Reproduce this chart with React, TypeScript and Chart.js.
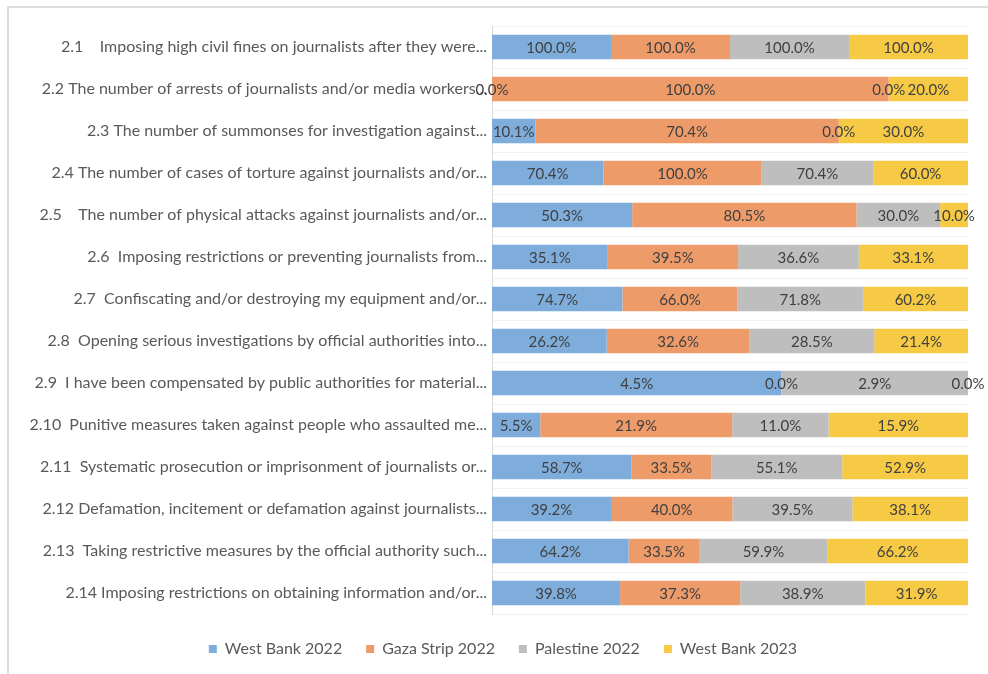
import React, { useEffect, useRef } from "react";
import { Chart, registerables } from "chart.js";

Chart.register(...registerables);

const categories = [
  "2.1    Imposing high civil fines on journalists after they were...",
  "2.2 The number of arrests of journalists and/or media workers...",
  "2.3 The number of summonses for investigation against...",
  "2.4 The number of cases of torture against journalists and/or...",
  "2.5    The number of physical attacks against journalists and/or...",
  "2.6  Imposing restrictions or preventing journalists from...",
  "2.7  Confiscating and/or destroying my equipment and/or...",
  "2.8  Opening serious investigations by official authorities into...",
  "2.9  I have been compensated by public authorities for material...",
  "2.10  Punitive measures taken against people who assaulted me...",
  "2.11  Systematic prosecution or imprisonment of journalists or...",
  "2.12 Defamation, incitement or defamation against journalists...",
  "2.13  Taking restrictive measures by the official authority such...",
  "2.14 Imposing restrictions on obtaining information and/or...",
];

const westBank2022 = [100, 0, 10.1, 70.4, 50.3, 35.1, 74.7, 26.2, 4.5, 5.5, 58.7, 39.2, 64.2, 39.8];
const gazaStrip2022 = [100, 100, 70.4, 100, 80.5, 39.5, 66.0, 32.6, 0, 21.9, 33.5, 40.0, 33.5, 37.3];
const palestine2022 = [100, 0, 0, 70.4, 30.0, 36.6, 71.8, 28.5, 2.9, 11.0, 55.1, 39.5, 59.9, 38.9];
const westBank2023 = [100, 20, 30, 60, 10, 33.1, 60.2, 21.4, 0, 15.9, 52.9, 38.1, 66.2, 31.9];

const seriesNames = ["West Bank 2022", "Gaza Strip 2022", "Palestine 2022", "West Bank 2023"];
const seriesValues = [westBank2022, gazaStrip2022, palestine2022, westBank2023];
const seriesColors = ["#7EADDC", "#EE9B6A", "#BEBEBE", "#F6CA45"];

const FONT = "Lato, 'Open Sans', sans-serif";

const rowTotals = categories.map((_, i) =>
  seriesValues.reduce((s, arr) => s + arr[i], 0)
);

const labelPlugin = {
  id: "segLabels",
  afterDatasetsDraw(chart: any) {
    const ctx = chart.ctx;
    ctx.save();
    ctx.font = `15px ${FONT}`;
    ctx.fillStyle = "#404040";
    ctx.textAlign = "center";
    ctx.textBaseline = "middle";
    chart.data.datasets.forEach((ds: any, di: number) => {
      const meta = chart.getDatasetMeta(di);
      meta.data.forEach((bar: any, i: number) => {
        const raw = ds.rawValues[i];
        const cx = (bar.x + bar.base) / 2;
        ctx.fillText(raw.toFixed(1) + "%", cx, bar.y + 1);
      });
    });
    ctx.restore();
  },
};

const legendShift = {
  id: "legendShift",
  afterLayout(chart: any) {
    const lg = chart.legend;
    if (!lg) return;
    lg.left += 19;
    lg.right += 19;
    lg.top += 3;
    lg.bottom += 3;
  },
};

export default function App() {
  const ref = useRef<HTMLCanvasElement>(null);
  useEffect(() => {
    if (!ref.current) return;
    const chart = new Chart(ref.current, {
      type: "bar",
      data: {
        labels: categories,
        datasets: seriesNames.map((name, si) => ({
          label: name,
          data: seriesValues[si].map((v, i) => (rowTotals[i] ? (v / rowTotals[i]) * 100 : 0)),
          rawValues: seriesValues[si],
          backgroundColor: seriesColors[si],
          borderWidth: 0,
          barPercentage: 0.58,
          categoryPercentage: 1,
        })) as any,
      },
      options: {
        indexAxis: "y",
        responsive: false,
        animation: false,
        layout: { padding: { top: 26, right: 20, bottom: 10, left: 0 } },
        scales: {
          x: { stacked: true, min: 0, max: 100, display: false },
          y: {
            stacked: true,
            afterFit: (scale: any) => {
              scale.width = 492;
            },
            grid: { display: true, offset: true, color: "#f1f1f1", drawTicks: false },
            border: { display: true, color: "#d9d9d9", width: 1 },
            ticks: {
              padding: 5,
              color: "#595959",
              font: { family: FONT, size: 16 },
              autoSkip: false,
            },
          },
        },
        plugins: {
          legend: {
            position: "bottom",
            labels: {
              boxWidth: 8,
              boxHeight: 8,
              padding: 24,
              color: "#595959",
              font: { family: FONT, size: 16 },
            },
          },
          tooltip: { enabled: false },
        },
      },
      plugins: [labelPlugin, legendShift],
    });
    return () => chart.destroy();
  }, []);

  return (
    <div style={{ position: "fixed", left: 0, top: 0, width: 988, height: 674, background: "#fff" }}>
      <div
        style={{
          position: "absolute",
          left: 7,
          top: 6,
          right: 0,
          bottom: 0,
          borderTop: "2px solid #dcdcdc",
          borderLeft: "2px solid #dcdcdc",
        }}
      />
      <canvas ref={ref} width={988} height={674} style={{ position: "absolute", left: 0, top: 0 }} />
    </div>
  );
}
